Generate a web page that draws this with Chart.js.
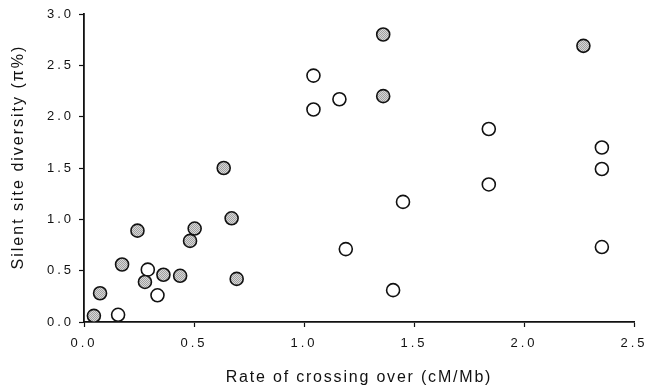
<!DOCTYPE html>
<html>
<head>
<meta charset="utf-8">
<script src="https://cdn.jsdelivr.net/npm/chart.js@4"></script>
<style>
  html, body { margin: 0; padding: 0; background: #fff; }
  #wrap { width: 647px; height: 389px; }
</style>
</head>
<body>
<div id="wrap"><canvas id="chart" width="647" height="389"></canvas></div>
<script>
// shaded circles
const shadedX = [0.045, 0.073, 0.173, 0.243, 0.277, 0.361, 0.437, 0.482, 0.503, 0.635, 0.671, 0.694, 1.36, 1.36, 2.27];
const shadedY = [0.06, 0.28, 0.56, 0.89, 0.39, 0.46, 0.45, 0.79, 0.91, 1.50, 1.01, 0.42, 2.80, 2.20, 2.69];
// open circles
const openX = [0.155, 0.29, 0.334, 1.043, 1.043, 1.161, 1.19, 1.405, 1.45, 1.84, 1.84, 2.354, 2.354, 2.354];
const openY = [0.07, 0.51, 0.26, 2.40, 2.07, 2.17, 0.71, 0.31, 1.17, 1.88, 1.34, 1.70, 1.49, 0.73];

const xTicks = [0, 0.5, 1.0, 1.5, 2.0, 2.5];
const yTicks = [0, 0.5, 1.0, 1.5, 2.0, 2.5, 3.0];

const toPoints = (xs, ys) => xs.map((x, i) => ({ x, y: ys[i] }));

// dotted grey fill like the printed figure
function greyPattern() {
  const c = document.createElement("canvas");
  c.width = 2; c.height = 2;
  const g = c.getContext("2d");
  g.fillStyle = "#d8d8d8"; g.fillRect(0, 0, 2, 2);
  g.fillStyle = "#a0a0a0"; g.fillRect(0, 0, 1, 1); g.fillRect(1, 1, 1, 1);
  return g.createPattern(c, "repeat");
}

// the printed figure has widely spaced lettering; set it per part of the axis
function spaceOut(s, tickSpacing, titleSpacing, titleShift) {
  if (s._spaced) return;
  s._spaced = true;
  const drawLabels = s.drawLabels, drawTitle = s.drawTitle;
  s.drawLabels = function (area) {
    this.ctx.save();
    this.ctx.letterSpacing = tickSpacing;
    drawLabels.call(this, area);
    this.ctx.restore();
  };
  s.drawTitle = function (area) {
    this.ctx.save();
    this.ctx.letterSpacing = titleSpacing;
    this.ctx.translate(0, titleShift);
    drawTitle.call(this, area);
    this.ctx.restore();
  };
}

const tickFont = { family: "'Liberation Sans', Arial, sans-serif", size: 13 };
const titleFont = { family: "'Liberation Sans', Arial, sans-serif", size: 16 };

new Chart(document.getElementById("chart"), {
  type: "scatter",
  data: {
    datasets: [
      {
        data: toPoints(shadedX, shadedY),
        backgroundColor: greyPattern(),
        borderColor: "#111",
        borderWidth: 1.6,
        pointRadius: 6.5
      },
      {
        data: toPoints(openX, openY),
        backgroundColor: "#fff",
        borderColor: "#111",
        borderWidth: 1.6,
        pointRadius: 6.5
      }
    ]
  },
  options: {
    responsive: false,
    animation: false,
    layout: { padding: { left: 0, right: 13, top: 14, bottom: 0 } },
    plugins: { legend: { display: false }, tooltip: { enabled: false } },
    scales: {
      x: {
        type: "linear",
        min: 0, max: 2.5,
        afterBuildTicks: s => { s.ticks = xTicks.map(v => ({ value: v })); },
        afterFit: s => {
          s.height = 67; s.paddingLeft = 0; s.paddingRight = 0;
          spaceOut(s, "3px", "1.8px", 0);
        },
        ticks: { color: "#111", font: tickFont, padding: 9, callback: v => v.toFixed(1) },
        grid: { drawOnChartArea: false, drawTicks: true, tickLength: 5, tickColor: "#111", tickWidth: 1.2 },
        border: { color: "#111", width: 1.8 },
        title: { display: true, text: "Rate of crossing over (cM/Mb)", color: "#111", font: titleFont, padding: { top: 2, bottom: 2 } }
      },
      y: {
        type: "linear",
        min: 0, max: 3,
        afterBuildTicks: s => { s.ticks = yTicks.map(v => ({ value: v })); },
        afterFit: s => {
          s.width = 84; s.paddingTop = 0; s.paddingBottom = 0;
          spaceOut(s, "3px", "2px", -11);
        },
        ticks: { color: "#111", font: tickFont, padding: 5, callback: v => v.toFixed(1) },
        grid: { drawOnChartArea: false, drawTicks: true, tickLength: 5, tickColor: "#111", tickWidth: 1.2 },
        border: { color: "#111", width: 1.8 },
        title: { display: true, text: "Silent site diversity (π%)", color: "#111", font: titleFont, padding: { top: 9, bottom: 2 } }
      }
    }
  }
});
</script>
</body>
</html>
